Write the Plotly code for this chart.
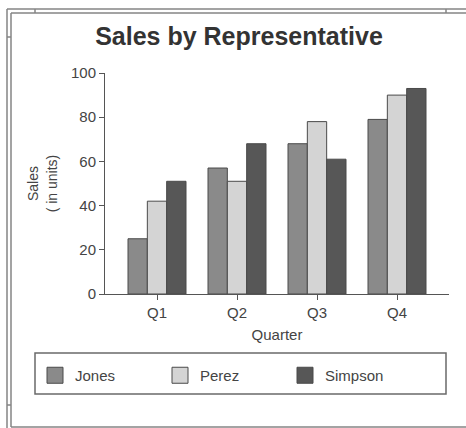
import plotly.graph_objects as go

quarters = ["Q1", "Q2", "Q3", "Q4"]
reps = ["Jones", "Perez", "Simpson"]
jones = [25, 57, 68, 79]
perez = [42, 51, 78, 90]
simpson = [51, 68, 61, 93]
y_ticks = [0, 20, 40, 60, 80, 100]

colors = {"Jones": "#8a8a8a", "Perez": "#d4d4d4", "Simpson": "#575757"}
series = {"Jones": jones, "Perez": perez, "Simpson": simpson}

W, H = 466, 428
L, R, T, B = 105, 17, 73, 134
PW, PH = W - L - R, H - T - B
FONT = "Liberation Sans, Arial, sans-serif"
TXT = "#444444"


def px(x):
    return (x - L) / PW


def py(y):
    return (H - B - y) / PH


fig = go.Figure()
for name in reps:
    fig.add_trace(go.Bar(
        x=quarters, y=series[name], name=name, showlegend=False,
        marker=dict(color=colors[name], line=dict(color="#4a4a4a", width=1)),
    ))
# legend entries with larger swatches
for name in reps:
    fig.add_trace(go.Scatter(
        x=[None], y=[None], name=name, mode="markers",
        marker=dict(symbol="square", size=16, color=colors[name],
                    line=dict(color="#4a4a4a", width=1)),
    ))

shapes = []
fc = "#858585"


def line(x0, y0, x1, y1, color=fc, w=1.5):
    shapes.append(dict(type="line", xref="paper", yref="paper",
                       x0=px(x0), y0=py(y0), x1=px(x1), y1=py(y1),
                       line=dict(color=color, width=w)))


# window frame
line(7, 9, 7, 428)
line(11, 13, 11, 427)
line(7, 9, 466, 9)
line(11, 13, 466, 13)
line(11, 427, 466, 427)
line(35, 9, 35, 13)
line(446, 9, 446, 13)
line(7, 37, 11, 37)
line(7, 405, 11, 405)
# legend box
shapes.append(dict(type="rect", xref="paper", yref="paper",
                   x0=px(35), y0=py(353), x1=px(446), y1=py(394),
                   line=dict(color="#6a6a6a", width=1.5), fillcolor="rgba(0,0,0,0)"))

fig.update_layout(
    width=W, height=H,
    margin=dict(l=L, r=R, t=T, b=B, autoexpand=False),
    paper_bgcolor="white", plot_bgcolor="white",
    font=dict(family=FONT, size=15, color=TXT),
    barmode="group", bargap=0.275, bargroupgap=0,
    title=dict(text="<b>Sales by Representative</b>", font=dict(size=25, color="#333333"),
               x=px(239), xref="paper", xanchor="center",
               y=1 - 36 / H, yref="container", yanchor="middle"),
    xaxis=dict(range=[-0.65, 3.65], showline=True, linecolor="#555555", linewidth=1,
               ticks="outside", ticklen=5, tickcolor="#555555", showgrid=False,
               zeroline=False, tickfont=dict(size=15),
               title=dict(text="Quarter", font=dict(size=15), standoff=9)),
    yaxis=dict(range=[0, 100], tickvals=y_ticks, showline=True, linecolor="#555555",
               linewidth=1, ticks="outside", ticklen=5, tickcolor="#555555",
               showgrid=False, zeroline=False, tickfont=dict(size=15),
               title=dict(text="Sales<br>( in units)", font=dict(size=14), standoff=10)),
    legend=dict(orientation="h", x=px(35), xanchor="left", y=py(375.5), yanchor="middle",
                entrywidth=80, font=dict(size=15), bgcolor="rgba(0,0,0,0)",
                borderwidth=0, itemclick=False),
    shapes=shapes,
)

fig.write_html("out.html", config={"displayModeBar": False},
               post_script="document.body.style.margin='0';")
